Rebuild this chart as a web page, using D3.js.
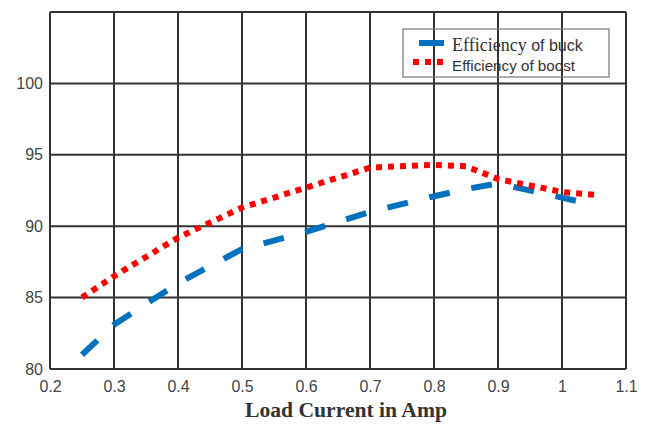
<!DOCTYPE html>
<html>
<head>
<meta charset="utf-8">
<script src="https://cdn.jsdelivr.net/npm/d3@7"></script>
<style>
  body { margin: 0; background: #fff; }
  svg { display: block; }
</style>
</head>
<body>
<svg id="chart" width="650" height="426"></svg>
<script>
// Data
const loadCurrent = [0.25, 0.3, 0.4, 0.5, 0.6, 0.7, 0.8, 0.85, 0.9, 1.0, 1.05];
const buckEff  = [81.0, 83.1, 86.0, 88.4, 89.6, 91.0, 92.1, 92.6, 93.0, 92.0, 91.5];
const boostEff = [85.0, 86.5, 89.2, 91.3, 92.7, 94.1, 94.3, 94.2, 93.3, 92.4, 92.2];
const xTicks = [0.2, 0.3, 0.4, 0.5, 0.6, 0.7, 0.8, 0.9, 1.0, 1.1];
const yTicks = [80, 85, 90, 95, 100];
const yGrid = [80, 85, 90, 95, 100, 105];

const margin = { left: 50, right: 24, top: 12, bottom: 57 };
const width = 650, height = 426;

const svg = d3.select("#chart");

const x = d3.scaleLinear().domain([0.2, 1.1]).range([margin.left, width - margin.right]);
const y = d3.scaleLinear().domain([80, 105]).range([height - margin.bottom, margin.top]);

// Grid
const grid = svg.append("g").attr("class", "grid");
grid.selectAll("line.v")
  .data(xTicks)
  .join("line")
  .attr("class", "v")
  .attr("x1", d => x(d)).attr("x2", d => x(d))
  .attr("y1", y(80)).attr("y2", y(105))
  .attr("stroke", "#333").attr("stroke-width", 2);
grid.selectAll("line.h")
  .data(yGrid)
  .join("line")
  .attr("class", "h")
  .attr("x1", x(0.2)).attr("x2", x(1.1))
  .attr("y1", d => y(d)).attr("y2", d => y(d))
  .attr("stroke", "#333").attr("stroke-width", 2);

// Axes (labels only; grid draws the box)
const xAxis = svg.append("g")
  .attr("transform", `translate(0,${y(80)})`)
  .call(d3.axisBottom(x).tickValues(xTicks).tickSize(0).tickPadding(12)
    .tickFormat(d => d3.format("~g")(d)));
const yAxis = svg.append("g")
  .attr("transform", `translate(${x(0.2)},0)`)
  .call(d3.axisLeft(y).tickValues(yTicks).tickSize(0).tickPadding(7));
[xAxis, yAxis].forEach(a => {
  a.select(".domain").remove();
  a.selectAll("text")
    .attr("fill", "#444")
    .style("font-family", "Arial, 'Liberation Sans', sans-serif")
    .style("font-size", "16px");
});

// Axis title
svg.append("text")
  .attr("x", 346)
  .attr("y", 417)
  .attr("text-anchor", "middle")
  .attr("textLength", 202)
  .attr("lengthAdjust", "spacingAndGlyphs")
  .style("font-family", "'Times New Roman', 'Liberation Serif', serif")
  .style("font-weight", "bold")
  .style("font-size", "20px")
  .attr("fill", "#333")
  .text("Load Current in Amp");

// Lines
const line = d3.line().x(d => x(d[0])).y(d => y(d[1]));

svg.append("path")
  .datum(d3.zip(loadCurrent, buckEff))
  .attr("d", line)
  .attr("fill", "none")
  .attr("stroke", "#0072BD")
  .attr("stroke-width", 6)
  .attr("stroke-dasharray", "21,22");

svg.append("path")
  .datum(d3.zip(loadCurrent, boostEff))
  .attr("d", line)
  .attr("fill", "none")
  .attr("stroke", "#FF0000")
  .attr("stroke-width", 6)
  .attr("stroke-dasharray", "6,6");

// Legend
const legend = svg.append("g");
legend.append("rect")
  .attr("x", 403).attr("y", 29)
  .attr("width", 206).attr("height", 48)
  .attr("fill", "none")
  .attr("stroke", "#777")
  .attr("stroke-width", 1.2);

legend.append("line")
  .attr("x1", 419).attr("x2", 444)
  .attr("y1", 43).attr("y2", 43)
  .attr("stroke", "#0072BD").attr("stroke-width", 6);
legend.append("line")
  .attr("x1", 413).attr("x2", 444)
  .attr("y1", 62).attr("y2", 62)
  .attr("stroke", "#FF0000").attr("stroke-width", 6)
  .attr("stroke-dasharray", "6,6");

const t1 = legend.append("text")
  .attr("x", 452).attr("y", 51)
  .attr("fill", "#333");
t1.append("tspan")
  .style("font-family", "'Times New Roman', 'Liberation Serif', serif")
  .style("font-size", "18px")
  .text("Efficiency ");
t1.append("tspan")
  .style("font-family", "Arial, 'Liberation Sans', sans-serif")
  .style("font-size", "16px")
  .text("of buck");

legend.append("text")
  .attr("x", 452).attr("y", 71)
  .attr("fill", "#333")
  .attr("textLength", 123)
  .attr("lengthAdjust", "spacingAndGlyphs")
  .style("font-family", "Arial, 'Liberation Sans', sans-serif")
  .style("font-size", "14px")
  .text("Efficiency of boost");
</script>
</body>
</html>
